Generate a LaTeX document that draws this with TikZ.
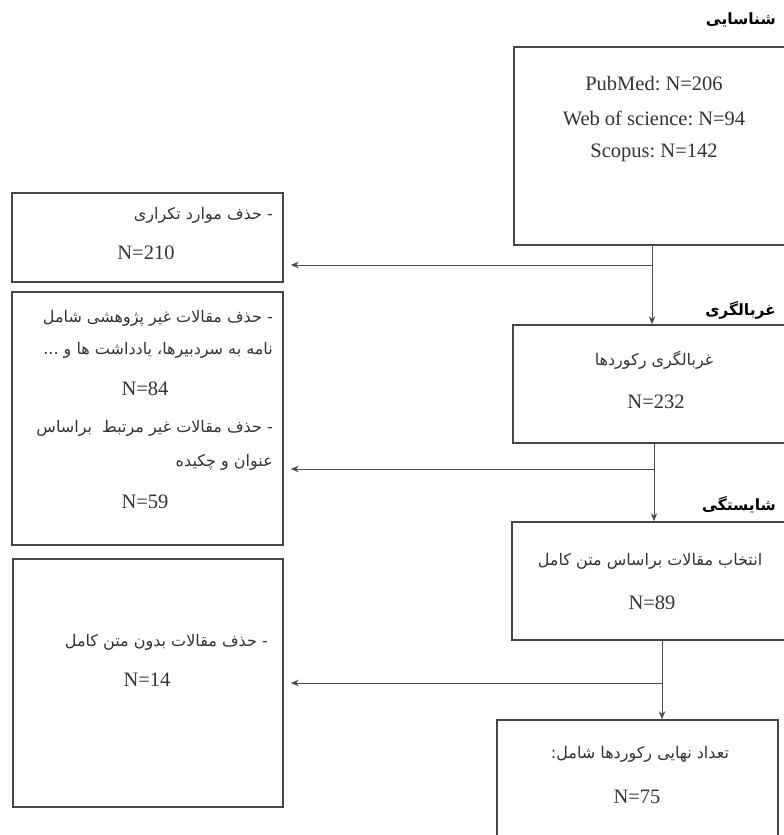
\documentclass[tikz,border=0pt]{standalone}
\usepackage{fontspec}
\setmainfont{Liberation Serif}
\newfontfamily\farsi[Script=Arabic]{DejaVu Sans}
\TeXXeTstate=1
\frenchspacing
\usepackage{tikz}
\usetikzlibrary{arrows.meta}
\newcommand{\rtl}[1]{\beginR #1\endR}
\tikzstyle{stage} = [rectangle, draw = black!72, line width = 1.6pt, inner sep = 0pt]
\tikzstyle{count} = [font = \fontsize{20.5}{24}\selectfont, text = black!80, inner sep = 0pt]
\tikzstyle{note} = [font = \farsi\fontsize{16}{19}\selectfont, text = black!80, inner sep = 0pt]
\tikzstyle{phase} = [font = \farsi\bfseries\fontsize{15.5}{18}\selectfont, anchor = east, inner sep = 0pt]
\tikzstyle{line} = [line width = 0.8pt, draw = black!70]
\tikzstyle{arrow} = [line, -{Stealth[length=8pt,width=6.5pt]}]

\begin{document}
\begin{tikzpicture}[x = 1pt, y = -1pt]
\useasboundingbox (0,0) rectangle (784,835);

\node(identhead) [phase] at (776,20) {\rtl{شناسایی}};
\node(ident) [stage, minimum width = 276, minimum height = 198] at (652,146) {};
\node(pubmed) [count] at (654,84) {PubMed: N=206};
\node(wos) [count] at (654,118) {Web of science: N=94};
\node(scopus) [count] at (654,153) {Scopus: N=142};

\node(screenhead) [phase] at (776,310) {\rtl{غربالگری}};
\node(screen) [stage, minimum width = 282, minimum height = 118] at (654,384) {};
\node(screentxt) [note] at (654,360) {\rtl{غربالگری رکوردها}};
\node(screenn) [count] at (656,402) {N=232};

\node(elighead) [phase] at (776,505) {\rtl{شایستگی}};
\node(elig) [stage, minimum width = 298, minimum height = 118] at (661,581) {};
\node(eligtxt) [note] at (650,561) {\rtl{انتخاب مقالات براساس متن کامل}};
\node(eligyn) [count] at (652,603) {N=89};

\node(final) [stage, minimum width = 281, minimum height = 160] at (637.5,800) {};
\node(finaltxt) [note] at (640,754) {\rtl{تعداد نهایی رکوردها شامل:}};
\node(finaln) [count] at (637,797) {N=75};

\node(dup) [stage, minimum width = 271, minimum height = 89] at (147.5,237.5) {};
\node(duptxt) [note, anchor = east] at (273,215) {\rtl{- حذف موارد تکراری}};
\node(dupn) [count] at (146,253) {N=210};

\node(excl) [stage, minimum width = 271, minimum height = 253] at (147.5,418.5) {};
\node(excla) [note, anchor = east] at (273,318) {\rtl{- حذف مقالات غیر پژوهشی شامل}};
\node(exclb) [note, anchor = east] at (273,350) {\rtl{نامه به سردبیرها، یادداشت ها و ...}};
\node(excln) [count] at (145,389) {N=84};
\node(exclc) [note, anchor = east] at (273,428) {\rtl{- حذف مقالات غیر مرتبط\ \ براساس}};
\node(excld) [note, anchor = east] at (273,462) {\rtl{عنوان و چکیده}};
\node(exclm) [count] at (145,502) {N=59};

\node(full) [stage, minimum width = 270, minimum height = 248] at (148,683) {};
\node(fulltxt) [note, anchor = east] at (268,642) {\rtl{- حذف مقالات بدون متن کامل}};
\node(fulln) [count] at (147,680) {N=14};

\coordinate(j1) at (652,265);
\coordinate(j2) at (654,469);
\coordinate(j3) at (662,683);

\draw [arrow] (ident.south -| j1) -- (screen.north -| j1);
\draw [arrow] (screen.south -| j2) -- (elig.north -| j2);
\draw [arrow] (elig.south -| j3) -- (final.north -| j3);
\draw [arrow, shorten >= 7pt] (j1) -- (j1 -| dup.east);
\draw [arrow, shorten >= 7pt] (j2) -- (j2 -| excl.east);
\draw [arrow, shorten >= 7pt] (j3) -- (j3 -| full.east);

\end{tikzpicture}
\end{document}
